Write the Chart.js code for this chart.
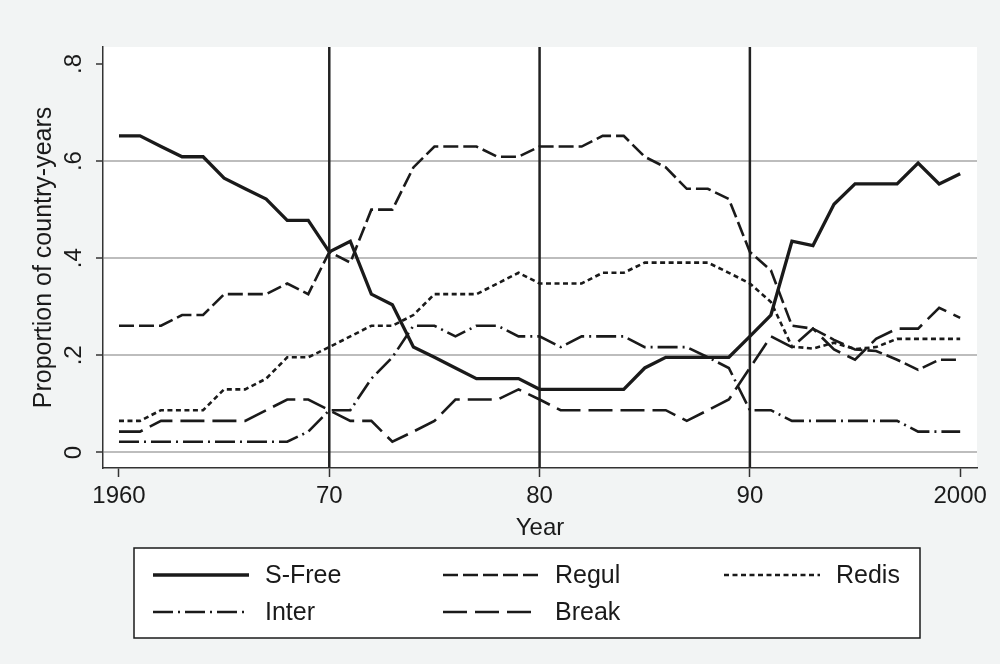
<!DOCTYPE html>
<html>
<head>
<meta charset="utf-8">
<title>Proportion of country-years</title>
<script src="https://cdn.jsdelivr.net/npm/chart.js@4/dist/chart.umd.min.js"></script>
<style>
  html, body { margin: 0; padding: 0; background: #f2f4f4; }
  #wrap { width: 1000px; height: 664px; }
</style>
</head>
<body>
<div id="wrap"><canvas id="chart" width="1000" height="664"></canvas></div>
<script>
// yearly shares of country-years by regime type
const years = [1960, 1961, 1962, 1963, 1964, 1965, 1966, 1967, 1968, 1969,
               1970, 1971, 1972, 1973, 1974, 1975, 1976, 1977, 1978, 1979,
               1980, 1981, 1982, 1983, 1984, 1985, 1986, 1987, 1988, 1989,
               1990, 1991, 1992, 1993, 1994, 1995, 1996, 1997, 1998, 1999, 2000];

const sFree = [0.652, 0.652, 0.630, 0.609, 0.609, 0.565, 0.543, 0.522, 0.478, 0.478,
               0.413, 0.435, 0.326, 0.304, 0.217, 0.196, 0.174, 0.152, 0.152, 0.152,
               0.130, 0.130, 0.130, 0.130, 0.130, 0.174, 0.196, 0.196, 0.196, 0.196,
               0.239, 0.283, 0.435, 0.426, 0.511, 0.553, 0.553, 0.553, 0.596, 0.553, 0.574];

const regul = [0.261, 0.261, 0.261, 0.283, 0.283, 0.326, 0.326, 0.326, 0.348, 0.326,
               0.413, 0.391, 0.500, 0.500, 0.587, 0.630, 0.630, 0.630, 0.609, 0.609,
               0.630, 0.630, 0.630, 0.652, 0.652, 0.609, 0.587, 0.543, 0.543, 0.522,
               0.413, 0.375, 0.261, 0.255, 0.232, 0.212, 0.209, 0.191, 0.170, 0.191, 0.191];

const redis = [0.065, 0.065, 0.087, 0.087, 0.087, 0.130, 0.130, 0.152, 0.196, 0.196,
               0.217, 0.239, 0.261, 0.261, 0.283, 0.326, 0.326, 0.326, 0.348, 0.370,
               0.348, 0.348, 0.348, 0.370, 0.370, 0.391, 0.391, 0.391, 0.391, 0.370,
               0.348, 0.310, 0.218, 0.214, 0.226, 0.213, 0.217, 0.234, 0.234, 0.234, 0.234];

const inter = [0.022, 0.022, 0.022, 0.022, 0.022, 0.022, 0.022, 0.022, 0.022, 0.043,
               0.087, 0.087, 0.152, 0.196, 0.261, 0.261, 0.239, 0.261, 0.261, 0.239,
               0.239, 0.217, 0.239, 0.239, 0.239, 0.217, 0.217, 0.217, 0.196, 0.174,
               0.087, 0.087, 0.065, 0.065, 0.065, 0.065, 0.065, 0.065, 0.043, 0.043, 0.043];

const brk = [0.043, 0.043, 0.065, 0.065, 0.065, 0.065, 0.065, 0.087, 0.109, 0.109,
             0.087, 0.065, 0.065, 0.022, 0.043, 0.065, 0.109, 0.109, 0.109, 0.130,
             0.109, 0.087, 0.087, 0.087, 0.087, 0.087, 0.087, 0.065, 0.087, 0.109,
             0.174, 0.239, 0.217, 0.255, 0.212, 0.191, 0.234, 0.255, 0.255, 0.298, 0.277];

const seriesNames = ['S-Free', 'Regul', 'Redis', 'Inter', 'Break'];

const xTickValues = [1960, 1970, 1980, 1990, 2000];
const xTickLabels = ['1960', '70', '80', '90', '2000'];
const yTickValues = [0, 0.2, 0.4, 0.6, 0.8];
const yTickLabels = ['0', '.2', '.4', '.6', '.8'];
const decadeLines = [1970, 1980, 1990];

const FONT = '"Liberation Sans", Arial, Helvetica, sans-serif';
const INK = '#1a1a1a';

const styles = [
    { width: 3.3, dash: [] },
    { width: 2.6, dash: [15, 5] },
    { width: 2.6, dash: [5, 3.5] },
    { width: 2.6, dash: [20, 5, 2, 5] },
    { width: 2.6, dash: [24, 8] }
];

const values = [sFree, regul, redis, inter, brk];

const datasets = seriesNames.map((name, i) => ({
    label: name,
    data: years.map((y, j) => ({ x: y, y: values[i][j] })),
    borderColor: INK,
    borderWidth: styles[i].width,
    borderDash: styles[i].dash,
    borderCapStyle: 'butt',
    borderJoinStyle: 'miter',
    pointRadius: 0,
    tension: 0,
    fill: false
}));

// page background + white plot region
const backdrop = {
    id: 'backdrop',
    beforeDraw(chart) {
        const { ctx, chartArea: a } = chart;
        ctx.save();
        ctx.fillStyle = '#f2f4f4';
        ctx.fillRect(0, 0, chart.width, chart.height);
        ctx.fillStyle = '#ffffff';
        ctx.fillRect(a.left, a.top, a.right - a.left, a.bottom - a.top);
        ctx.restore();
    }
};

// vertical rules at the decade marks
const decadeRules = {
    id: 'decadeRules',
    beforeDatasetsDraw(chart) {
        const { ctx, chartArea: a, scales: { x } } = chart;
        ctx.save();
        ctx.strokeStyle = '#222222';
        ctx.lineWidth = 2.5;
        decadeLines.forEach(yr => {
            const px = x.getPixelForValue(yr);
            ctx.beginPath();
            ctx.moveTo(px, a.top);
            ctx.lineTo(px, a.bottom);
            ctx.stroke();
        });
        ctx.restore();
    }
};

// boxed legend under the axis, three columns
const boxLegend = {
    id: 'boxLegend',
    afterDraw(chart) {
        const { ctx } = chart;
        const box = { x: 134, y: 548, w: 786, h: 90 };
        const cols = [153, 443, 724];
        const rows = [575, 612];
        ctx.save();
        ctx.fillStyle = '#ffffff';
        ctx.fillRect(box.x, box.y, box.w, box.h);
        ctx.strokeStyle = INK;
        ctx.lineWidth = 1.5;
        ctx.strokeRect(box.x, box.y, box.w, box.h);
        ctx.font = '25px ' + FONT;
        ctx.textBaseline = 'middle';
        ctx.textAlign = 'left';
        chart.data.datasets.forEach((ds, i) => {
            const cx = cols[i % 3];
            const cy = rows[Math.floor(i / 3)];
            ctx.strokeStyle = ds.borderColor;
            ctx.lineWidth = ds.borderWidth;
            ctx.lineCap = 'butt';
            ctx.setLineDash(ds.borderDash);
            ctx.beginPath();
            ctx.moveTo(cx, cy);
            ctx.lineTo(cx + 96, cy);
            ctx.stroke();
            ctx.setLineDash([]);
            ctx.fillStyle = INK;
            ctx.fillText(ds.label, cx + 112, cy + 1);
        });
        ctx.restore();
    }
};

new Chart(document.getElementById('chart'), {
    type: 'line',
    data: { datasets },
    plugins: [backdrop, decadeRules, boxLegend],
    options: {
        responsive: false,
        animation: false,
        events: [],
        layout: { padding: { top: 47, right: 23, bottom: 121, left: 0 } },
        plugins: { legend: { display: false }, tooltip: { enabled: false } },
        scales: {
            x: {
                type: 'linear',
                min: 1959.24,
                max: 2000.8,
                afterBuildTicks: s => { s.ticks = xTickValues.map(v => ({ value: v })); },
                afterFit: s => { s.height = 75; },
                ticks: {
                    autoSkip: false,
                    maxRotation: 0,
                    padding: 5,
                    color: INK,
                    font: { family: FONT, size: 24 },
                    callback: v => xTickLabels[xTickValues.indexOf(v)]
                },
                grid: { drawOnChartArea: false, tickLength: 9, tickColor: '#333', tickWidth: 1.5 },
                border: { display: true, color: '#333', width: 1.5 },
                title: {
                    display: true, text: 'Year', color: INK,
                    font: { family: FONT, size: 24 }, padding: { top: 0, bottom: 0 }
                }
            },
            y: {
                type: 'linear',
                min: -0.032,
                max: 0.835,
                afterBuildTicks: s => { s.ticks = yTickValues.map(v => ({ value: v })); },
                afterFit: s => { s.width = 103; },
                ticks: {
                    minRotation: 90,
                    maxRotation: 90,
                    crossAlign: 'center',
                    padding: 12,
                    color: INK,
                    font: { family: FONT, size: 24 },
                    callback: v => yTickLabels[yTickValues.indexOf(v)]
                },
                grid: {
                    color: c => (c.tick && c.tick.value === 0.8) ? 'rgba(0,0,0,0)' : '#bdbdbd',
                    lineWidth: 2,
                    tickLength: 7,
                    tickColor: '#333',
                    tickWidth: 1.5
                },
                border: { display: true, color: '#333', width: 1.5 },
                title: {
                    display: true, text: 'Proportion of country-years', color: INK,
                    font: { family: FONT, size: 25 }, padding: { top: 29, bottom: 0 }
                }
            }
        }
    }
});
</script>
</body>
</html>
